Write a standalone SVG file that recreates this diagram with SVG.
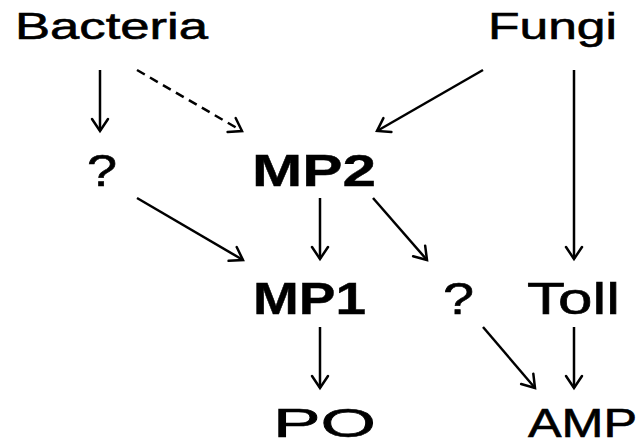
<svg xmlns="http://www.w3.org/2000/svg" width="641" height="446" viewBox="0 0 641 446">
<defs>
<marker id="ah" markerUnits="userSpaceOnUse" markerWidth="24" markerHeight="24" refX="0" refY="0" viewBox="-14 -12 16 24" orient="auto" overflow="visible">
<path d="M-12,-8 L0,0 L-12,8" fill="none" stroke="#000" stroke-width="2.5" stroke-linecap="round" stroke-linejoin="miter"/>
</marker>
<style>
.t{font-family:"Liberation Sans",Arial,sans-serif;fill:#000;stroke:#000;stroke-width:0.6}
.b{font-weight:bold;stroke-width:0.4}
.e{stroke:#000;stroke-width:2.5;fill:none;marker-end:url(#ah)}
.d{stroke-dasharray:9,6}
</style>
</defs>
<rect width="641" height="446" fill="#fff"/>
<g id="connectors">
<line class="e" x1="100" y1="70" x2="100" y2="131"/>
<line class="e d" x1="137" y1="70" x2="242" y2="131"/>
<line class="e" x1="483" y1="70" x2="377" y2="131"/>
<line class="e" x1="574" y1="70" x2="574" y2="259"/>
<line class="e" x1="137" y1="198" x2="243" y2="260"/>
<line class="e" x1="320" y1="198" x2="320" y2="259"/>
<line class="e" x1="373" y1="198" x2="427" y2="260"/>
<line class="e" x1="320" y1="327" x2="320" y2="388"/>
<line class="e" x1="483" y1="327" x2="535" y2="388"/>
<line class="e" x1="574" y1="327" x2="574" y2="388"/>
</g>
<g id="bacteria"><text class="t" x="15" y="39" font-size="37" textLength="193" lengthAdjust="spacingAndGlyphs">Bacteria</text></g>
<g id="fungi"><text class="t" x="488" y="39" font-size="37" textLength="129" lengthAdjust="spacingAndGlyphs">Fungi</text></g>
<g id="q1"><text class="t" x="87" y="186" font-size="45" textLength="30" lengthAdjust="spacingAndGlyphs">?</text></g>
<g id="mp2"><text class="t b" x="252" y="186" font-size="44" textLength="124" lengthAdjust="spacingAndGlyphs">MP2</text></g>
<g id="mp1"><text class="t b" x="253" y="314" font-size="44" textLength="113" lengthAdjust="spacingAndGlyphs">MP1</text></g>
<g id="q2"><text class="t" x="443" y="314" font-size="45" textLength="31" lengthAdjust="spacingAndGlyphs">?</text></g>
<g id="toll"><text class="t" x="527" y="314" font-size="44" textLength="93" lengthAdjust="spacingAndGlyphs">Toll</text></g>
<g id="po"><text class="t" x="273" y="437" font-size="40" textLength="103" lengthAdjust="spacingAndGlyphs">PO</text></g>
<g id="amp"><text class="t" x="528" y="437" font-size="40" textLength="109" lengthAdjust="spacingAndGlyphs">AMP</text></g>
</svg>
